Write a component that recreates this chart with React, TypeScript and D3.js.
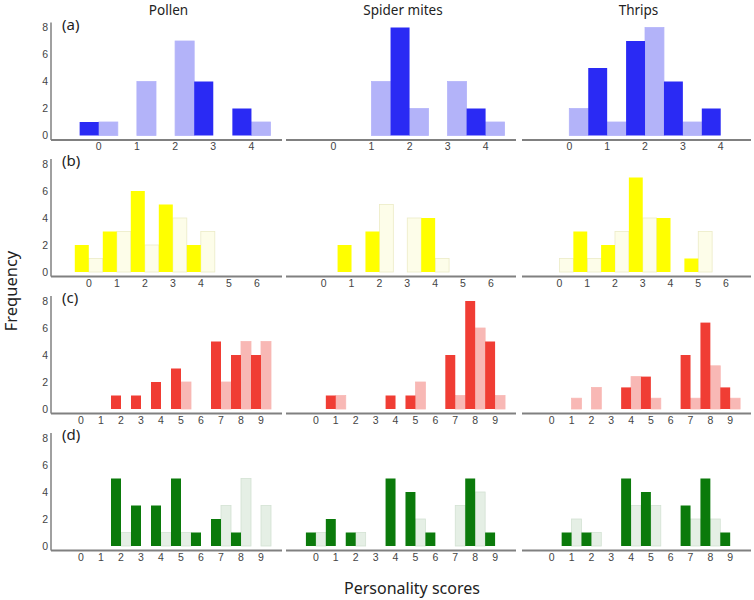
import * as d3 from "d3"

// score categories per row
const scoresA = [0, 1, 2, 3, 4]
const scoresB = [0, 1, 2, 3, 4, 5, 6]
const scoresCD = [0, 1, 2, 3, 4, 5, 6, 7, 8, 9]

const columnTitles = ["Pollen", "Spider mites", "Thrips"]
const rowLabels = ["(a)", "(b)", "(c)", "(d)"]
const yTicks = [0, 2, 4, 6, 8]

// row (a): solid = dark bars (left of tick), pale = light bars (right of tick)
const pollenASolid = [1, 0, 0, 4, 2]
const pollenAPale = [1, 4, 7, 0, 1]
const spiderASolid = [0, 0, 8, 0, 2]
const spiderAPale = [0, 4, 2, 4, 1]
const thripsASolid = [0, 5, 7, 4, 2]
const thripsAPale = [2, 1, 8, 1, 0]

// row (b)
const pollenBSolid = [2, 3, 6, 5, 2, 0, 0]
const pollenBPale = [1, 3, 2, 4, 3, 0, 0]
const spiderBSolid = [0, 2, 3, 0, 4, 0, 0]
const spiderBPale = [0, 0, 5, 4, 1, 0, 0]
const thripsBSolid = [0, 3, 2, 7, 4, 1, 0]
const thripsBPale = [1, 1, 3, 4, 0, 3, 0]

// row (c)
const pollenCSolid = [0, 0, 1, 1, 2, 3, 0, 5, 4, 4]
const pollenCPale = [0, 0, 0, 0, 0, 2, 0, 2, 5, 5]
const spiderCSolid = [0, 1, 0, 0, 1, 1, 0, 4, 8, 5]
const spiderCPale = [0, 1, 0, 0, 0, 2, 0, 1, 6, 1]
const thripsCSolid = [0, 0, 0, 0, 1.6, 2.4, 0, 4, 6.4, 1.6]
const thripsCPale = [0, 0.8, 1.6, 0, 2.4, 0.8, 0, 0.8, 3.2, 0.8]

// row (d)
const pollenDSolid = [0, 0, 5, 3, 3, 5, 1, 2, 1, 0]
const pollenDPale = [0, 0, 1, 0, 1, 1, 0, 3, 5, 3]
const spiderDSolid = [1, 2, 1, 0, 5, 4, 1, 0, 5, 1]
const spiderDPale = [1, 0, 1, 0, 0, 2, 0, 3, 4, 0]
const thripsDSolid = [0, 1, 1, 0, 5, 4, 0, 3, 5, 1]
const thripsDPale = [0, 2, 1, 0, 3, 3, 0, 2, 2, 0]

const W = 754
const H = 600
const colX = [[51, 282], [286, 516], [522, 751]]
const rowTop = [27.5, 164, 301, 438]
const rowBase = [135.5, 272, 409, 546]

const rows = [
    {
        scores: scoresA, domain: [-1.25, 4.8],
        solid: "#2a2af4", pale: "#b3b3f9", paleStroke: "#b3b3f9",
        data: [[pollenASolid, pollenAPale], [spiderASolid, spiderAPale], [thripsASolid, thripsAPale]],
    },
    {
        scores: scoresB, domain: [-1.35, 6.9],
        solid: "#ffff00", pale: "#fdfde9", paleStroke: "#ecebc6",
        data: [[pollenBSolid, pollenBPale], [spiderBSolid, spiderBPale], [thripsBSolid, thripsBPale]],
    },
    {
        scores: scoresCD, domain: [-1.5, 10.05],
        solid: "#f03d34", pale: "#f8b8b5", paleStroke: "#f8b8b5",
        data: [[pollenCSolid, pollenCPale], [spiderCSolid, spiderCPale], [thripsCSolid, thripsCPale]],
    },
    {
        scores: scoresCD, domain: [-1.5, 10.05],
        solid: "#0b7a0b", pale: "#e5efe5", paleStroke: "#d3e2d3",
        data: [[pollenDSolid, pollenDPale], [spiderDSolid, spiderDPale], [thripsDSolid, thripsDPale]],
    },
]

const tickFont = "'Liberation Sans', Arial, sans-serif"
const titleFont = "'Noto Sans', 'Open Sans', sans-serif"
const axisColor = "#808080"

export default function App() {
    return (
        <svg width={W} height={H} viewBox={`0 0 ${W} ${H}`}
            style={{ position: "absolute", left: 0, top: 0, background: "#fff" }}>
            {columnTitles.map((t, c) => (
                <text key={t} x={(colX[c][0] + colX[c][1]) / 2 + 2} y={14.5} textAnchor="middle"
                    fontFamily={titleFont} fontSize={13.5} fill="#222">{t}</text>
            ))}

            {rows.map((row, r) => {
                const y = d3.scaleLinear().domain([0, 8]).range([rowBase[r], rowTop[r]])
                const axisY = rowBase[r] + 4.5
                return (
                    <g key={r}>
                        {/* y axis on the left column only */}
                        <line x1={colX[0][0]} x2={colX[0][0]} y1={rowTop[r] - 5} y2={axisY}
                            stroke={axisColor} strokeWidth={1.5} />
                        {yTicks.map(t => (
                            <text key={t} x={48} y={y(t) + 3.8} textAnchor="end"
                                fontFamily={tickFont} fontSize={10.5} fill="#444">{t}</text>
                        ))}
                        <text x={62} y={rowTop[r] + 2} fontFamily={titleFont} fontSize={15} fill="#222">
                            {rowLabels[r]}
                        </text>

                        {row.data.map(([solid, pale], c) => {
                            const x = d3.scaleLinear().domain(row.domain).range(colX[c])
                            const half = x(0.5) - x(0)
                            return (
                                <g key={c}>
                                    {row.scores.map((s, i) => (
                                        <g key={s}>
                                            {pale[i] > 0 && (
                                                <rect x={x(s)} y={y(pale[i])} width={half}
                                                    height={y(0) - y(pale[i])}
                                                    fill={row.pale} stroke={row.paleStroke} strokeWidth={0.8} />
                                            )}
                                            {solid[i] > 0 && (
                                                <rect x={x(s - 0.5)} y={y(solid[i])} width={half}
                                                    height={y(0) - y(solid[i])} fill={row.solid} />
                                            )}
                                        </g>
                                    ))}
                                    <line x1={colX[c][0]} x2={colX[c][1]} y1={axisY} y2={axisY}
                                        stroke={axisColor} strokeWidth={1.8} />
                                    {row.scores.map(s => (
                                        <text key={s} x={x(s)} y={rowBase[r] + 14.5} textAnchor="middle"
                                            fontFamily={tickFont} fontSize={10.5} fill="#444">{s}</text>
                                    ))}
                                </g>
                            )
                        })}
                    </g>
                )
            })}

            <text transform="translate(17,291) rotate(-90)" textAnchor="middle"
                fontFamily={titleFont} fontSize={16.5} fill="#222">Frequency</text>
            <text x={412} y={594} textAnchor="middle" fontFamily={titleFont} fontSize={16} fill="#222">
                Personality scores
            </text>
        </svg>
    )
}
